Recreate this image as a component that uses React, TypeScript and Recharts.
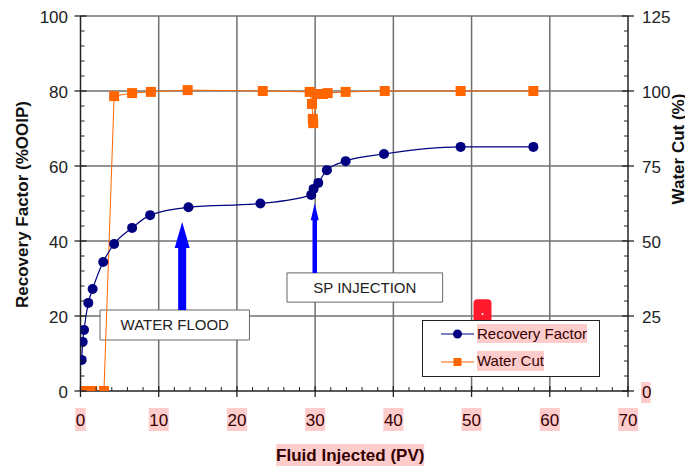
import { LineChart, Line, XAxis, YAxis, CartesianGrid, Legend, ReferenceArea, ReferenceLine } from 'recharts'

// Recovery factor (% OOIP) vs fluid injected (PV)
const rfInjected = [0.15, 0.28, 0.45, 1.0, 1.55, 2.9, 4.3, 6.6, 8.9, 13.8, 23.0, 29.5, 29.8, 30.4, 31.5, 33.9, 38.8, 48.6, 57.9]
const rfValues = [8.3, 13.1, 16.3, 23.5, 27.2, 34.4, 39.2, 43.5, 46.9, 49.0, 50.0, 52.3, 53.9, 55.5, 58.9, 61.3, 63.2, 65.1, 65.1]

// Water cut (%) vs fluid injected (PV)
const wcInjected = [0, 0.5, 1.0, 1.5, 3.0, 4.3, 6.6, 9.0, 13.7, 23.3, 29.3, 29.6, 29.7, 29.75, 30.2, 31.0, 31.6, 33.9, 38.9, 48.6, 57.9]
const wcValues = [0, 0, 0, 0, 0, 98.3, 99.3, 99.7, 100.3, 100, 99.7, 95.7, 90.7, 89.3, 99, 99, 99.3, 99.7, 100, 100, 100]

const xTicks = Array.from({ length: 36 }, (_, i) => i * 2)
const leftTicks = Array.from({ length: 26 }, (_, i) => i * 4)
const rightTicks = Array.from({ length: 26 }, (_, i) => i * 5)
const gridX = [10, 20, 30, 40, 50, 60]
const gridY = [20, 40, 60, 80, 100]

// annotation boxes and arrows, in data units (left axis)
const boxes = [
  { label: 'WATER FLOOD', x1: 2.5, x2: 21.6, y1: 13.6, y2: 21.6 },
  { label: 'SP INJECTION', x1: 26.4, x2: 46.3, y1: 23.7, y2: 31.5 },
]
const arrows = [
  { x: 13.0, from: 21.6, to: 45.1, shaft: 8, head: 15, headLen: 26 },
  { x: 29.95, from: 31.5, to: 50.1, shaft: 4.5, head: 8, headLen: 17 },
]

const rfData = rfInjected.map((x, i) => ({ x, rf: rfValues[i] }))
const wcData = wcInjected.map((x, i) => ({ x, wc: wcValues[i] }))

const FONT = '"Liberation Sans", Arial, Helvetica, sans-serif'
const PINK = '#ffcccc'
const MARK = '#330000'

const XTick = (p: any) => {
  const { x, y, payload } = p
  const v = payload.value
  if (v % 10 !== 0) return <line x1={x} x2={x} y1={y - 4} y2={y} stroke="#222" />
  const s = String(v)
  const w = s.length * 9.5 + 1
  return (
    <g>
      <line x1={x} x2={x} y1={y - 5} y2={y + 6} stroke="#222" strokeWidth={1.3} />
      <rect x={x - w / 2} y={y + 17} width={w} height={23} fill={PINK} />
      <text x={x} y={y + 29} textAnchor="middle" dominantBaseline="central" fontSize={17} fill={MARK}>{s}</text>
    </g>
  )
}

const LeftTick = (p: any) => {
  const { x, y, payload } = p
  const v = payload.value
  if (v % 20 !== 0) return <line x1={x} x2={x + 4} y1={y} y2={y} stroke="#222" />
  return (
    <g>
      <line x1={x - 6} x2={x + 6} y1={y} y2={y} stroke="#222" strokeWidth={1.3} />
      <text x={x - 12.5} y={y + 1} textAnchor="end" dominantBaseline="central" fontSize={17} fill="#222">{v}</text>
    </g>
  )
}

const RightTick = (p: any) => {
  const { x, y, payload } = p
  const v = payload.value
  if (v % 25 !== 0) return <line x1={x - 4} x2={x} y1={y} y2={y} stroke="#222" />
  return (
    <g>
      <line x1={x - 6} x2={x + 6} y1={y} y2={y} stroke="#222" strokeWidth={1.3} />
      {v === 0 ? <rect x={x + 13} y={y - 9} width={9.5} height={21} fill={PINK} /> : null}
      <text x={x + 14} y={y + 1} textAnchor="start" dominantBaseline="central" fontSize={17} fill={v === 0 ? MARK : '#222'}>{v}</text>
    </g>
  )
}

const leftTitle = (p: any) => {
  const vb = p.viewBox
  const cx = vb.x + 14
  const cy = vb.y + vb.height / 2 + 1
  return (
    <text x={cx} y={cy} transform={`rotate(-90, ${cx}, ${cy})`} textAnchor="middle" dominantBaseline="central"
      fontSize={17} fontWeight="bold" fill="#111">Recovery Factor (%OOIP)</text>
  )
}

const rightTitle = (p: any) => {
  const vb = p.viewBox
  const cx = vb.x + 50
  const cy = vb.y + vb.height / 2 - 54.5
  return (
    <text x={cx} y={cy} transform={`rotate(-90, ${cx}, ${cy})`} textAnchor="middle" dominantBaseline="central"
      fontSize={17} fontWeight="bold" fill="#111">Water Cut (%)</text>
  )
}

const bottomTitle = (p: any) => {
  const vb = p.viewBox
  const cx = vb.x + vb.width / 2 - 4
  const cy = vb.y + 64
  return (
    <g>
      <rect x={cx - 74} y={cy - 11} width={148} height={22} fill={PINK} />
      <text x={cx} y={cy} textAnchor="middle" dominantBaseline="central" fontSize={17} fontWeight="bold" fill={MARK}>
        Fluid Injected (PV)
      </text>
    </g>
  )
}

const arrowShape = (a: typeof arrows[number]) => (p: any) => {
  const { x1, y1, y2 } = p
  const s = a.shaft / 2
  const h = a.head / 2
  const hb = y2 + a.headLen
  const pts = [
    [x1 - s, y1], [x1 - s, hb], [x1 - h, hb], [x1, y2], [x1 + h, hb], [x1 + s, hb], [x1 + s, y1],
  ].map(q => q.join(',')).join(' ')
  return <polygon points={pts} fill="#0000ff" />
}

const squareDot = (p: any) => (
  <rect key={`wc-${p.index}`} x={p.cx - 5} y={p.cy - 5} width={10} height={10} fill="#ff6600" />
)

const LegendBox = () => (
  <div style={{ position: 'relative', width: 178, height: 57, boxSizing: 'border-box', border: '1px solid #222', background: '#fff', fontFamily: FONT }}>
    <svg width={60} height={57} style={{ position: 'absolute', left: 0, top: 0 }}>
      <line x1={18} x2={51} y1={13} y2={13} stroke="#000080" strokeWidth={1.2} />
      <circle cx={34.5} cy={13} r={4.5} fill="#000080" />
      <line x1={18} x2={51} y1={41} y2={41} stroke="#ff6600" strokeWidth={1.2} />
      <rect x={30.5} y={37} width={8} height={8} fill="#ff6600" />
    </svg>
    <span style={{ position: 'absolute', left: 54, top: 3, height: 19, lineHeight: '19px', fontSize: 15, background: PINK, color: MARK, whiteSpace: 'nowrap' }}>Recovery Factor</span>
    <span style={{ position: 'absolute', left: 54, top: 30, height: 20, lineHeight: '20px', fontSize: 15, background: PINK, color: MARK, whiteSpace: 'nowrap' }}>Water Cut</span>
  </div>
)

export default function App() {
  return (
    <div style={{ fontFamily: FONT, width: 685, height: 461 }}>
      <LineChart width={685} height={461} margin={{ top: 8, right: 0, bottom: 0, left: 0 }}>
        <CartesianGrid xAxisId="x" yAxisId="left" horizontalValues={gridY} verticalValues={gridX}
          stroke="#707070" strokeWidth={1.5} strokeDasharray="" />
        <XAxis xAxisId="x" dataKey="x" type="number" domain={[0, 70]} ticks={xTicks} interval={0}
          height={78} tickSize={0} tickMargin={0} tickLine={false} tick={XTick}
          axisLine={{ stroke: '#222', strokeWidth: 1.5 }} label={bottomTitle} allowDataOverflow />
        <YAxis yAxisId="left" type="number" domain={[0, 100]} ticks={leftTicks} interval={0}
          width={72.5} tickSize={0} tickMargin={0} tickLine={false} tick={LeftTick}
          axisLine={{ stroke: '#222', strokeWidth: 1.5 }} label={leftTitle} allowDataOverflow />
        <YAxis yAxisId="right" orientation="right" type="number" domain={[0, 125]} ticks={rightTicks} interval={0}
          width={65} tickSize={0} tickMargin={0} tickLine={false} tick={RightTick}
          axisLine={{ stroke: '#222', strokeWidth: 1.5 }} label={rightTitle} allowDataOverflow />
        {boxes.map(b => (
          <ReferenceArea key={b.label} xAxisId="x" yAxisId="left" x1={b.x1} x2={b.x2} y1={b.y1} y2={b.y2}
            fill="#fff" fillOpacity={1} stroke="#666" strokeWidth={1}
            label={{ value: b.label, position: 'center', fill: '#222', fontSize: 15 }} />
        ))}
        {arrows.map((a, i) => (
          <ReferenceLine key={i} xAxisId="x" yAxisId="left"
            segment={[{ x: a.x, y: a.from }, { x: a.x, y: a.to }]} shape={arrowShape(a)} />
        ))}
        <ReferenceArea xAxisId="x" yAxisId="left" x1={50.25} x2={52.55} y1={17.6} y2={24.5} fill="#ff1a2e" fillOpacity={1}
          shape={(p: any) => (
            <g>
              <rect x={p.x} y={p.y} width={p.width} height={p.height} rx={4} fill="#ff1a2e" />
              <circle cx={p.x + p.width / 2} cy={p.y + p.height / 2 + 2} r={1} fill="#fff" />
            </g>
          )} />
        <Line xAxisId="x" yAxisId="right" data={wcData} dataKey="wc" type="linear" stroke="#ff6600" strokeWidth={1}
          dot={squareDot} activeDot={false} isAnimationActive={false} />
        <Line xAxisId="x" yAxisId="left" data={rfData} dataKey="rf" type="monotone" stroke="#000080" strokeWidth={1.2}
          dot={{ r: 5, fill: '#000080', stroke: 'none' }} activeDot={false} isAnimationActive={false} />
        <Legend layout="vertical" align="center" verticalAlign="middle" content={LegendBox}
          wrapperStyle={{ left: 414, top: 312, width: 178, height: 57 }} />
      </LineChart>
    </div>
  )
}
